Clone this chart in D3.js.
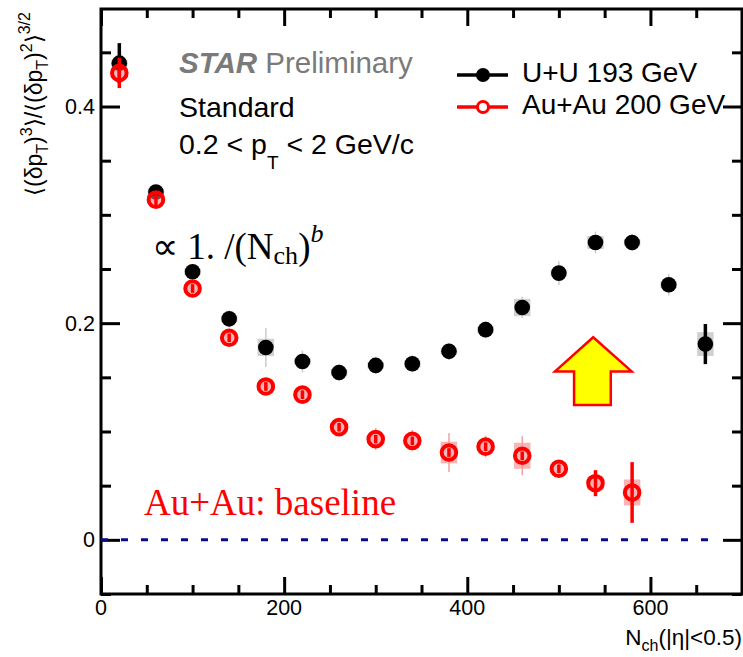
<!DOCTYPE html>
<html>
<head>
<meta charset="utf-8">
<script src="https://cdn.jsdelivr.net/npm/d3@7"></script>
<style>
  body { margin: 0; background: #fff; }
  svg { display: block; }
  .sans { font-family: "Liberation Sans", Arial, Helvetica, sans-serif; }
  .serif { font-family: "Liberation Serif", "Times New Roman", serif; }
</style>
</head>
<body>
<div id="chart"></div>
<script>
// N_ch bin centres
const nchUU = [20, 60, 100, 140, 180, 220, 260, 300, 340, 380, 420, 460, 500, 540, 580, 620, 660];
const nchAu = [20, 60, 100, 140, 180, 220, 260, 300, 340, 380, 420, 460, 500, 540, 580];

// U+U 193 GeV
const uuVal = [0.440, 0.321, 0.2475, 0.204, 0.1776, 0.1646, 0.1545, 0.161, 0.1625, 0.174, 0.194, 0.2145, 0.2462, 0.2745, 0.2745, 0.2355, 0.1807];
const uuStat = [0.0185, 0.006, 0.004, 0.004, 0.004, 0.004, 0.003, 0.003, 0.003, 0.003, 0.003, 0.004, 0.004, 0.004, 0.004, 0.004, 0.0185];
const uuSysLine = [0, 0.006, 0.007, 0.008, 0.018, 0.010, 0.008, 0.008, 0.008, 0.008, 0.008, 0.010, 0.011, 0.010, 0.008, 0.010, 0];
const uuSysBox = [0.003, 0.003, 0.003, 0.003, 0.008, 0.003, 0.003, 0.003, 0.003, 0.003, 0.003, 0.008, 0.003, 0.006, 0.003, 0.003, 0.011];

// Au+Au 200 GeV
const auVal = [0.431, 0.314, 0.232, 0.1865, 0.1416, 0.134, 0.104, 0.093, 0.0914, 0.0806, 0.086, 0.0776, 0.0656, 0.0523, 0.0437];
const auStat = [0.014, 0.006, 0.004, 0.004, 0.004, 0.004, 0.004, 0.004, 0.004, 0.004, 0.004, 0.004, 0.004, 0.012, 0.028];
const auSysLine = [0, 0.008, 0.008, 0.006, 0.006, 0.006, 0.006, 0.010, 0.010, 0.018, 0.010, 0.018, 0.006, 0.006, 0];
const auSysBox = [0.004, 0.004, 0.004, 0.004, 0.004, 0.004, 0.004, 0.004, 0.004, 0.010, 0.004, 0.012, 0.004, 0.006, 0.012];

const xTicks = [0, 200, 400, 600];
const yTicks = [0, 0.2, 0.4];

// annotation arrow outline, in data coordinates
const arrowPts = [
  [537.5, 0.187], [579.5, 0.1555], [556.7, 0.1555], [556.7, 0.1245],
  [516.6, 0.1245], [516.6, 0.1555], [495.8, 0.1555]
];

const W = 743, H = 657;
const frame = { left: 101, right: 742, top: 9, bottom: 594 };

const svg = d3.select("#chart").append("svg")
  .attr("width", W).attr("height", H);

const x = d3.scaleLinear().domain([0, 700]).range([frame.left, frame.right]);
const y = d3.scaleLinear().domain([-0.05, 0.49]).range([frame.bottom, frame.top]);

// ---- axes (ROOT style: ticks inside, mirrored) ----
function tickAxis(axisFn, scale, vals, size, pos) {
  const g = svg.append("g").attr("transform", pos)
    .call(axisFn(scale).tickValues(vals).tickSize(size).tickFormat(""));
  g.select(".domain").remove();
  g.selectAll("line").attr("stroke", "#000").attr("stroke-width", 3);
}
const xMinor = d3.range(0, 701, 50).filter(v => v % 200 !== 0);
const yMinor = d3.range(-0.05, 0.4901, 0.05).map(v => +v.toFixed(2)).filter(v => !yTicks.includes(v));

tickAxis(d3.axisBottom, x, xTicks, -17, `translate(0,${frame.bottom})`);
tickAxis(d3.axisBottom, x, xMinor, -9, `translate(0,${frame.bottom})`);
tickAxis(d3.axisTop, x, xTicks, -17, `translate(0,${frame.top})`);
tickAxis(d3.axisTop, x, xMinor, -9, `translate(0,${frame.top})`);
tickAxis(d3.axisLeft, y, yTicks, -19, `translate(${frame.left},0)`);
tickAxis(d3.axisLeft, y, yMinor, -10, `translate(${frame.left},0)`);
tickAxis(d3.axisRight, y, yTicks, -19, `translate(${frame.right},0)`);
tickAxis(d3.axisRight, y, yMinor, -10, `translate(${frame.right},0)`);

svg.append("rect")
  .attr("x", frame.left).attr("y", frame.top)
  .attr("width", frame.right - frame.left).attr("height", frame.bottom - frame.top)
  .attr("fill", "none").attr("stroke", "#000").attr("stroke-width", 3);

// tick labels
svg.append("g").selectAll("text").data(xTicks).join("text")
  .attr("class", "sans")
  .attr("x", d => x(d)).attr("y", 615)
  .attr("text-anchor", "middle").attr("font-size", 21.5)
  .text(d => d);
svg.append("g").selectAll("text").data(yTicks).join("text")
  .attr("class", "sans")
  .attr("x", 95).attr("y", d => y(d) + 7.5)
  .attr("text-anchor", "end").attr("font-size", 21.5)
  .text(d => d === 0 ? "0" : d.toFixed(1));

// axis titles
const xt = svg.append("text").attr("class", "sans")
  .attr("x", 742).attr("y", 645).attr("text-anchor", "end").attr("font-size", 22.5);
xt.append("tspan").text("N");
xt.append("tspan").attr("font-size", 16).attr("dy", 6).text("ch");
xt.append("tspan").attr("dy", -6).text("(|η|<0.5)");

const yt = svg.append("text").attr("class", "sans")
  .attr("transform", "translate(42,104) rotate(-90)")
  .attr("text-anchor", "middle").attr("font-size", 23);
yt.append("tspan").text("⟨(δp");
yt.append("tspan").attr("font-size", 16).attr("dy", 6).text("T");
yt.append("tspan").attr("dy", -6).text(")");
yt.append("tspan").attr("font-size", 16).attr("dy", -10).text("3");
yt.append("tspan").attr("dy", 10).text("⟩/⟨(δp");
yt.append("tspan").attr("font-size", 16).attr("dy", 6).text("T");
yt.append("tspan").attr("dy", -6).text(")");
yt.append("tspan").attr("font-size", 16).attr("dy", -10).text("2");
yt.append("tspan").attr("dy", 10).text("⟩");
yt.append("tspan").attr("font-size", 16).attr("dy", -12).text("3/2");

// zero baseline
svg.append("line")
  .attr("x1", x(0)).attr("x2", x(675))
  .attr("y1", y(0)).attr("y2", y(0))
  .attr("stroke", "#0b0b8c").attr("stroke-width", 3)
  .attr("stroke-dasharray", "7,13");

// ---- data ----
function drawSeries(nch, val, stat, sysLine, sysBox, col, light, boxCol, open) {
  const pts = nch.map((n, i) => ({ n, v: val[i], s: stat[i], sl: sysLine[i], sb: sysBox[i] }));
  const g = svg.append("g");
  g.selectAll("rect.sys").data(pts).join("rect").attr("class", "sys")
    .attr("x", d => x(d.n - 9)).attr("width", d => x(d.n + 9) - x(d.n - 9))
    .attr("y", d => y(d.v + d.sb)).attr("height", d => y(d.v - d.sb) - y(d.v + d.sb))
    .attr("fill", boxCol);
  g.selectAll("line.sysl").data(pts).join("line").attr("class", "sysl")
    .attr("x1", d => x(d.n)).attr("x2", d => x(d.n))
    .attr("y1", d => y(d.v + d.sl)).attr("y2", d => y(d.v - d.sl))
    .attr("stroke", light).attr("stroke-width", 1.5);
  g.selectAll("line.stat").data(pts).join("line").attr("class", "stat")
    .attr("x1", d => x(d.n)).attr("x2", d => x(d.n))
    .attr("y1", d => y(d.v + d.s)).attr("y2", d => y(d.v - d.s))
    .attr("stroke", col).attr("stroke-width", 3.5);
  g.selectAll("circle").data(pts).join("circle")
    .attr("cx", d => x(d.n)).attr("cy", d => y(d.v))
    .attr("r", open ? 7.3 : 7.8)
    .attr("fill", open ? "none" : col)
    .attr("stroke", open ? col : "none")
    .attr("stroke-width", open ? 4 : 0);
}
drawSeries(nchUU, uuVal, uuStat, uuSysLine, uuSysBox, "#000", "#cccccc", "rgba(150,150,150,0.45)", false);
drawSeries(nchAu, auVal, auStat, auSysLine, auSysBox, "#ff0000", "#f7a0a0", "rgba(240,120,120,0.55)", true);

// arrow annotation
svg.append("path")
  .attr("d", d3.line().x(d => x(d[0])).y(d => y(d[1]))(arrowPts) + "Z")
  .attr("fill", "#ffff00").attr("stroke", "#ff0000").attr("stroke-width", 2.5)
  .attr("stroke-linejoin", "miter");

// ---- texts ----
const star = svg.append("text").attr("class", "sans")
  .attr("x", 179).attr("y", 73).attr("font-size", 29.5).attr("fill", "#7a7a7a");
star.append("tspan").attr("font-weight", "bold").attr("font-style", "italic").text("STAR");
star.append("tspan").text(" Preliminary");

svg.append("text").attr("class", "sans")
  .attr("x", 179).attr("y", 117).attr("font-size", 28.5).text("Standard");

const pt = svg.append("text").attr("class", "sans")
  .attr("x", 179).attr("y", 154).attr("font-size", 28.5);
pt.append("tspan").text("0.2 < p");
pt.append("tspan").attr("font-size", 19).attr("dy", 15).text("T");
pt.append("tspan").attr("dy", -15).text(" < 2 GeV/c");

const fit = svg.append("text").attr("class", "serif")
  .attr("x", 152).attr("y", 259).attr("font-size", 37);
fit.append("tspan").text("∝ 1. /(N");
fit.append("tspan").attr("font-size", 26).attr("dy", 5).text("ch");
fit.append("tspan").attr("dy", -5).text(")");
fit.append("tspan").attr("font-size", 26).attr("font-style", "italic").attr("dy", -17).text("b");

svg.append("text").attr("class", "serif")
  .attr("x", 144).attr("y", 515).attr("font-size", 37).attr("fill", "#ff0000")
  .text("Au+Au: baseline");

// legend
const legend = [
  { label: "U+U 193 GeV", col: "#000", open: false, y: 75, ty: 82 },
  { label: "Au+Au 200 GeV", col: "#ff0000", open: true, y: 107, ty: 114 }
];
const lg = svg.append("g").selectAll("g").data(legend).join("g");
lg.append("line").attr("x1", 457).attr("x2", 508)
  .attr("y1", d => d.y).attr("y2", d => d.y)
  .attr("stroke", d => d.col).attr("stroke-width", 3.5);
lg.append("circle").attr("cx", 483).attr("cy", d => d.y)
  .attr("r", d => d.open ? 5.5 : 7)
  .attr("fill", d => d.open ? "#fff" : d.col)
  .attr("stroke", d => d.open ? d.col : "none").attr("stroke-width", 3);
lg.append("text").attr("class", "sans")
  .attr("x", 522).attr("y", d => d.ty).attr("font-size", 28)
  .text(d => d.label);
</script>
</body>
</html>
